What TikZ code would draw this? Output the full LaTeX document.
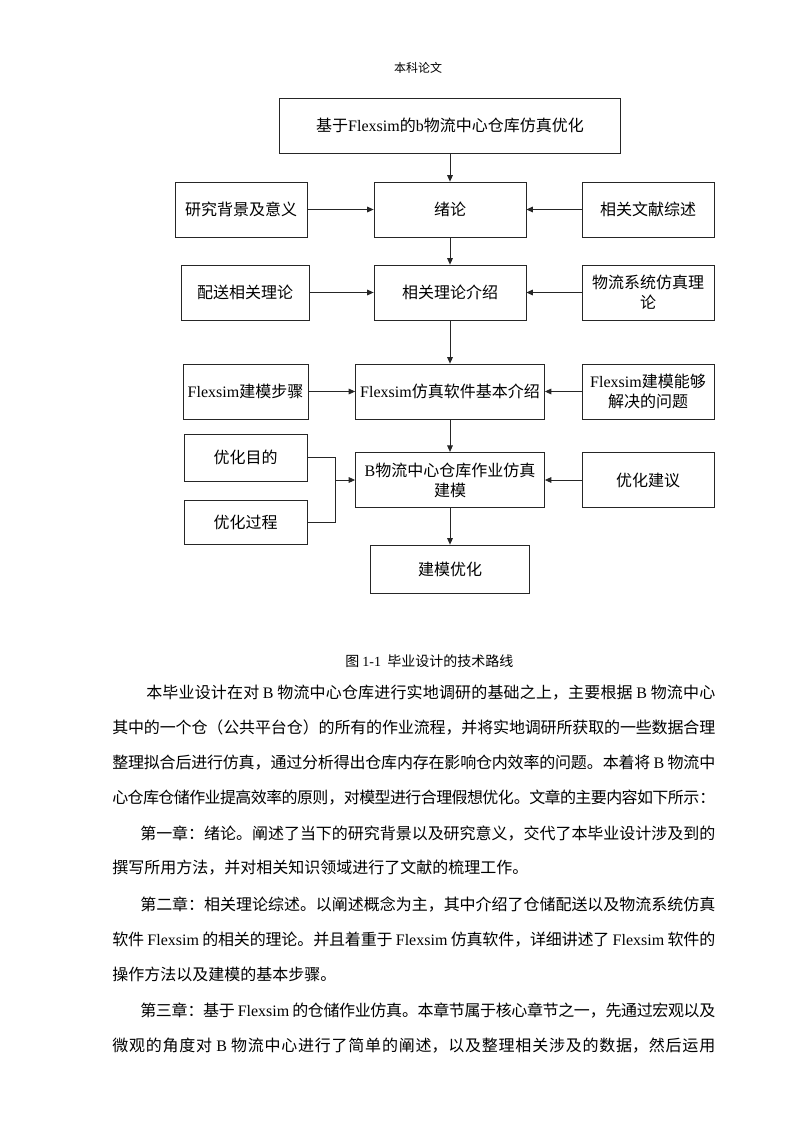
\documentclass[tikz,border=0pt]{standalone}
\usepackage{fontspec}
\setmainfont{Noto Sans CJK SC}
\newfontfamily\lat{Liberation Serif}
\usetikzlibrary{arrows.meta}
\XeTeXlinebreaklocale "zh"
\XeTeXlinebreakskip=0pt plus 2pt minus 0.6pt
\newcommand\fullline[3]{\node[anchor=base west,inner sep=0pt] at (#1,#2)
  {\parbox[t]{\dimexpr(715pt-#1pt)*3/4\relax}{\fontsize{12pt}{15pt}\selectfont
   \parindent=0pt\parfillskip=0pt\XeTeXlinebreakpenalty=10000\relax #3\par}};}
\newcommand\lastline[3]{\node[anchor=base west,inner sep=0pt,font=\fontsize{12pt}{15pt}\selectfont] at (#1,#2) {#3};}
\begin{document}
\begin{tikzpicture}[x=0.75pt,y=-0.75pt,
  bx/.style={draw=black!85,line width=0.6pt,inner sep=0pt,align=center,
    font=\fontsize{12pt}{15pt}\selectfont,minimum height=41.25pt},
  arr/.style={draw=black!85,line width=0.6pt,-{Triangle[length=4.8pt,width=4.2pt]}},
  ln/.style={draw=black!85,line width=0.6pt}]
\fill[white] (0,0) rectangle (793,1122);
\useasboundingbox (0,0) rectangle (793,1122);

% header
\node[anchor=base,inner sep=0pt,font=\fontsize{9pt}{11pt}\selectfont] (hdr) at (418,72) {本科论文};

% boxes
\node[bx,minimum width=255.75pt] (title) at (450,125.75) {基于{\lat Flexsim}的{\lat b}物流中心仓库仿真优化};
\node[bx,minimum width=99pt] (yj) at (241,209.5) {研究背景及意义};
\node[bx,minimum width=114pt] (xl) at (450,209.5) {绪论};
\node[bx,minimum width=99pt] (wx) at (648,209.5) {相关文献综述};

\node[bx,minimum width=96pt] (ps) at (245,292.5) {配送相关理论};
\node[bx,minimum width=114pt] (ll) at (450,292.5) {相关理论介绍};
\node[bx,minimum width=99pt] (wl) at (648,292.5) {物流系统仿真理\\论};

\node[bx,minimum width=93.75pt] (fbz) at (245.5,391.5) {{\lat Flexsim}建模步骤};
\node[bx,minimum width=141.75pt] (fjs) at (450,391.5) {{\lat Flexsim}仿真软件基本介绍};
\node[bx,minimum width=99pt] (fwt) at (648,391.5) {{\lat Flexsim}建模能够\\解决的问题};

\node[bx,minimum width=92.25pt,minimum height=35.25pt] (md) at (245.5,457.5) {优化目的};
\node[bx,minimum width=92.25pt,minimum height=33pt] (gc) at (245.5,522.5) {优化过程};
\node[bx,minimum width=141.75pt,minimum height=41.6pt] (bm) at (450,480) {{\lat B}物流中心仓库作业仿真\\建模};
\node[bx,minimum width=99pt,minimum height=41.6pt] (jy) at (648,480) {优化建议};

\node[bx,minimum width=119.25pt,minimum height=36pt] (yh) at (450,569) {建模优化};

% connectors
\draw[arr] (title) -- (xl);
\draw[arr] (xl) -- (ll);
\draw[arr] (ll) -- (fjs);
\draw[arr] (fjs) -- (bm);
\draw[arr] (bm) -- (yh);
\draw[arr] (yj) -- (xl);
\draw[arr] (wx) -- (xl);
\draw[arr] (ps) -- (ll);
\draw[arr] (wl) -- (ll);
\draw[arr] (fbz) -- (fjs);
\draw[arr] (fwt) -- (fjs);
\draw[arr] (jy) -- (bm);
\coordinate (jn) at (335.7,480);
\draw[ln] (md.east) -| (jn) |- (gc.east);
\draw[arr] (jn) -- (bm.west);

% caption
\node[anchor=base west,inner sep=0pt,font=\fontsize{10.5pt}{13pt}\selectfont] (cap) at (345,666) {图~{\lat 1-1}~~毕业设计的技术路线};

% body text
\fullline{146}{698}{本毕业设计在对~{\lat B}~物流中心仓库进行实地调研的基础之上，主要根据~{\lat B}~物流中心}
\fullline{112}{733}{其中的一个仓（公共平台仓）的所有的作业流程，并将实地调研所获取的一些数据合理}
\fullline{112}{768}{整理拟合后进行仿真，通过分析得出仓库内存在影响仓内效率的问题。本着将~{\lat B}~物流中}
\fullline{112}{803}{心仓库仓储作业提高效率的原则，对模型进行合理假想优化。文章的主要内容如下所示：}
\fullline{140}{839}{第一章：绪论。阐述了当下的研究背景以及研究意义，交代了本毕业设计涉及到的}
\lastline{112}{873}{撰写所用方法，并对相关知识领域进行了文献的梳理工作。}
\fullline{140}{910}{第二章：相关理论综述。以阐述概念为主，其中介绍了仓储配送以及物流系统仿真}
\fullline{112}{945}{软件~{\lat Flexsim}~的相关的理论。并且着重于~{\lat Flexsim}~仿真软件，详细讲述了~{\lat Flexsim}~软件的}
\lastline{112}{980}{操作方法以及建模的基本步骤。}
\fullline{140}{1016}{第三章：基于~{\lat Flexsim}~的仓储作业仿真。本章节属于核心章节之一，先通过宏观以及}
\fullline{112}{1051}{微观的角度对~{\lat B}~物流中心进行了简单的阐述，以及整理相关涉及的数据，然后运用}
\end{tikzpicture}
\end{document}
